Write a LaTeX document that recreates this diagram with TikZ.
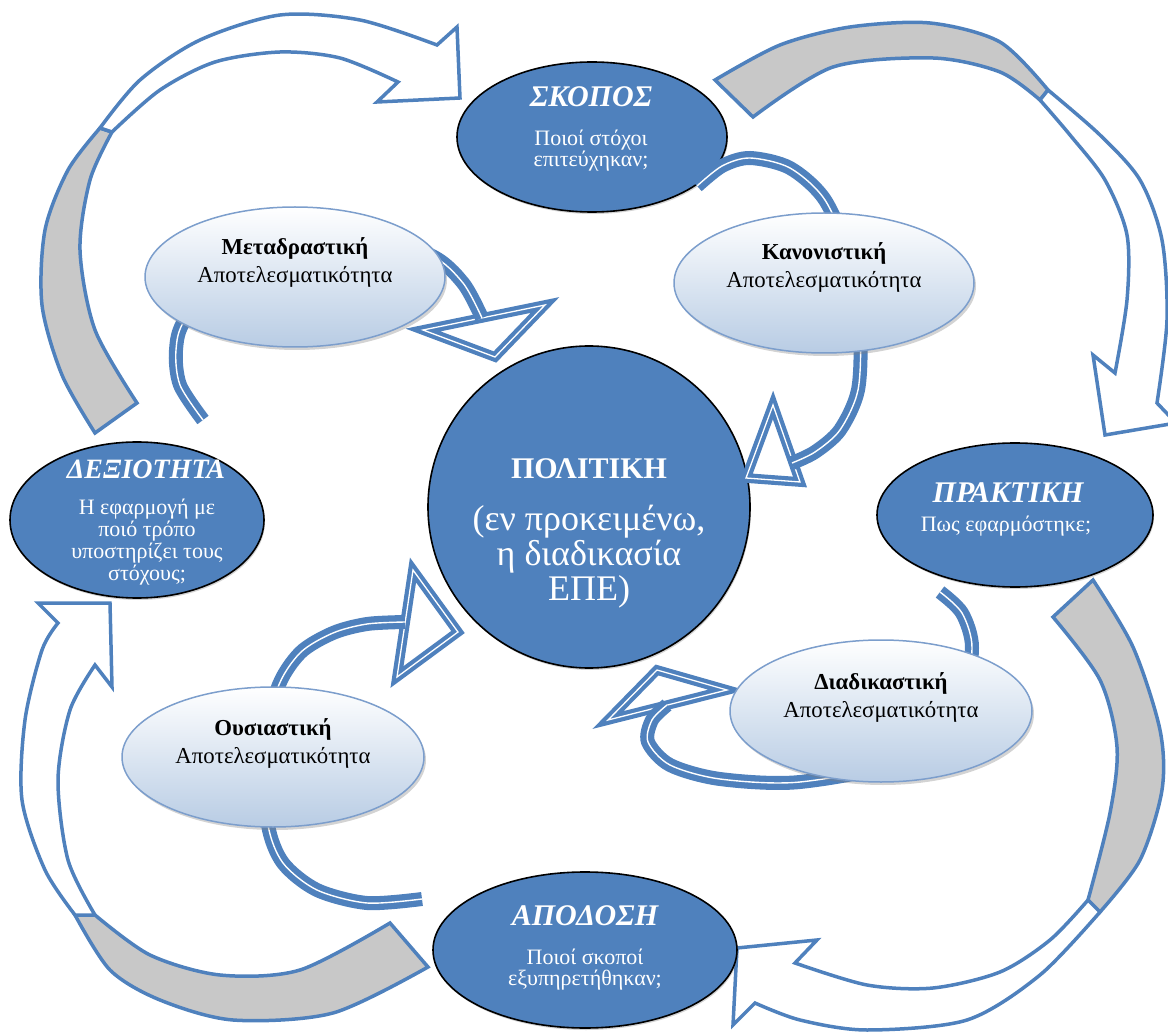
\documentclass[tikz,border=0pt]{standalone}
\usepackage{fontspec}
\setmainfont{Liberation Serif}
\usetikzlibrary{shapes.geometric, shadows}
\definecolor{bandblue}{RGB}{79,129,189}
\definecolor{ballblue}{RGB}{79,129,189}
\definecolor{paleblue}{RGB}{184,204,228}
\definecolor{rimblue}{RGB}{124,158,204}
\definecolor{backgray}{RGB}{200,200,200}

\begin{document}
\lineskiplimit=-50pt
\begin{tikzpicture}[x=1pt, y=-1pt,
    bigarrow/.style={draw=bandblue, line width=3.5pt, line join=miter},
    ribbon/.style={draw=bandblue, line width=6.3pt, double=white, double distance=1.4pt},
    ribbonhead/.style={draw=bandblue, line width=4.2pt, double=white, double distance=1.3pt, fill=white, line join=miter},
    ball/.style={ellipse, draw=black, line width=1.6pt, fill=ballblue, inner sep=0pt,
        drop shadow={shadow xshift=1pt, shadow yshift=-2pt, opacity=0.35}},
    pill/.style={ellipse, draw=rimblue, line width=1.5pt, top color=white, bottom color=paleblue, inner sep=0pt,
        drop shadow={shadow xshift=2pt, shadow yshift=-3pt, opacity=0.35}},
    balltitle/.style={anchor=base, text=white, inner sep=0pt, font=\fontsize{30}{30}\selectfont\bfseries\itshape},
    balltext/.style={anchor=base, text=white, inner sep=0pt, align=center, font=\fontsize{22}{21.7}\selectfont},
    pilltitle/.style={anchor=base, inner sep=0pt, font=\fontsize{22.8}{23}\selectfont\bfseries},
    pilltext/.style={anchor=base, inner sep=0pt, font=\fontsize{22.8}{23}\selectfont}]

    \path[use as bounding box, clip] (0,0) rectangle (1168,1032);

    % Draw the big arrows of the outer cycle
    % from the skill ellipse up to the aim ellipse
    \fill[backgray] (95,433) -- plot[smooth] coordinates {(95,433) (62,375) (42,305) (45,230) (68,170) (100,128)}
        -- plot[smooth] coordinates {(112,132) (90,180) (80,250) (95,330) (137,403)} -- cycle;
    \draw[bigarrow] (95,433) -- plot[smooth] coordinates {(95,433) (62,375) (42,305) (45,230) (68,170) (100,128)}
        -- plot[smooth] coordinates {(112,132) (90,180) (80,250) (95,330) (137,403)} -- cycle;
    \draw[bigarrow, fill=white] (100,128) -- plot[smooth] coordinates {(100,128) (140,80) (200,40) (280,15) (360,20) (437,45)}
        -- (457,27) -- (460,98) -- (377,102) -- (398,82)
        -- plot[smooth] coordinates {(398,82) (340,58) (280,52) (215,62) (160,90) (112,132)} -- cycle;

    % from the aim ellipse down to the practice ellipse
    \fill[backgray] (715,80) -- plot[smooth] coordinates {(715,80) (780,45) (850,27) (930,23) (1000,42) (1048,90)}
        -- plot[smooth] coordinates {(1040,100) (1000,72) (933,58) (833,67) (753,117)} -- cycle;
    \draw[bigarrow] (715,80) -- plot[smooth] coordinates {(715,80) (780,45) (850,27) (930,23) (1000,42) (1048,90)}
        -- plot[smooth] coordinates {(1040,100) (1000,72) (933,58) (833,67) (753,117)} -- cycle;
    \draw[bigarrow, fill=white] (1048,90) -- plot[smooth] coordinates {(1048,90) (1100,135) (1140,180) (1162,240) (1167,320) (1157,403)}
        -- (1176,423) -- (1105,435) -- (1093,355) -- (1115,373)
        -- plot[smooth] coordinates {(1115,373) (1127,300) (1127,235) (1105,180) (1070,135) (1040,100)} -- cycle;

    % from the practice ellipse down to the output ellipse
    \fill[backgray] (1093,580) -- plot[smooth] coordinates {(1093,580) (1133,647) (1160,730) (1162,790) (1140,860) (1100,912)}
        -- plot[smooth] coordinates {(1088,900) (1110,813) (1117,747) (1100,680) (1053,617)} -- cycle;
    \draw[bigarrow] (1093,580) -- plot[smooth] coordinates {(1093,580) (1133,647) (1160,730) (1162,790) (1140,860) (1100,912)}
        -- plot[smooth] coordinates {(1088,900) (1110,813) (1117,747) (1100,680) (1053,617)} -- cycle;
    \draw[bigarrow, fill=white] (1100,912) -- plot[smooth] coordinates {(1100,912) (1040,975) (967,1020) (867,1030) (800,1020) (755,1003)}
        -- (733,1025) -- (737,948) -- (817,940) -- (795,963)
        -- plot[smooth] coordinates {(795,963) (867,985) (933,988) (1000,972) (1050,940) (1088,900)} -- cycle;

    % from the output ellipse up to the skill ellipse
    \fill[backgray] (75,915) -- plot[smooth] coordinates {(75,915) (110,970) (160,1000) (233,1020) (333,1013) (428,967)}
        -- plot[smooth] coordinates {(390,923) (300,970) (220,975) (150,955) (95,915)} -- cycle;
    \draw[bigarrow] (75,915) -- plot[smooth] coordinates {(75,915) (110,970) (160,1000) (233,1020) (333,1013) (428,967)}
        -- plot[smooth] coordinates {(390,923) (300,970) (220,975) (150,955) (95,915)} -- cycle;
    \draw[bigarrow, fill=white] (75,915) -- plot[smooth] coordinates {(75,915) (45,870) (22,800) (25,720) (42,650) (58,623)}
        -- (38,603) -- (110,603) -- (112,687) -- (95,665)
        -- plot[smooth] coordinates {(95,665) (70,710) (58,780) (68,860) (95,915)} -- cycle;

    % Draw the four dark ellipses and the centre
    \node[ball, minimum width=270, minimum height=150] (skopos) at (592,137) {};
    \node[ball, minimum width=254, minimum height=156] (dexiotita) at (137,520) {};
    \node[ball, minimum width=276, minimum height=144] (praktiki) at (1015,515) {};
    \node[ball, minimum width=304, minimum height=156] (apodosi) at (585,950) {};
    \node[ball, circle, minimum size=322] (politiki) at (589,507) {};

    % Draw the small arrows towards the centre
    \draw[ribbonhead] (773,405) -- (800,482) -- (746,478) -- cycle;
    \draw[ribbon] plot[smooth] coordinates {(697,186) (722,166) (750,158) (790,168) (825,200) (850,260) (860,330) (858,390) (840,430) (815,452) (792,463)};

    \draw[ribbonhead] (423,330) -- (545,305) -- (495,357) -- cycle;
    \draw[ribbon] plot[smooth] coordinates {(203,420) (180,385) (176,350) (186,318) (240,255) (350,232) (430,255) (463,283) (482,318)};

    \draw[ribbonhead] (413,570) -- (458,632) -- (397,677) -- cycle;
    \draw[ribbon] plot[smooth] coordinates {(422,899) (367,903) (317,890) (283,863) (268,825) (265,760) (277,690) (300,653) (333,633) (367,624) (405,622)};

    \draw[ribbonhead] (608,720) -- (657,670) -- (727,690) -- cycle;
    \draw[ribbon] plot[smooth] coordinates {(940,592) (962,613) (972,648) (960,700) (900,760) (800,782) (720,779) (670,765) (648,742) (652,720) (667,705)};

    % Draw the four pale ellipses
    \node[pill, minimum width=300, minimum height=140] (metadrastiki) at (295,277) {};
    \node[pill, minimum width=300, minimum height=140] (kanonistiki) at (824,283) {};
    \node[pill, minimum width=302, minimum height=140] (ousiastiki) at (273,757) {};
    \node[pill, minimum width=302, minimum height=142] (diadikastiki) at (881,711) {};

    % Label the dark ellipses (a text of several lines sits on its last line)
    \node[balltitle] (skopostitle) at (591,107) {ΣΚΟΠΟΣ};
    \node[balltext] (skopostext) at (591,167) {Ποιοί στόχοι\\επιτεύχηκαν;};
    \node[balltitle, font=\fontsize{28}{28}\selectfont\bfseries\itshape] (dexiotitatitle) at (146,478) {ΔΕΞΙΟΤΗΤΑ};
    \node[balltext] (dexiotitatext) at (147,580) {Η εφαρμογή με\\ποιό τρόπο\\υποστηρίζει τους\\στόχους;};
    \node[balltitle] (praktikititle) at (1008,502) {ΠΡΑΚΤΙΚΗ};
    \node[balltext] (praktikitext) at (1006,531) {Πως εφαρμόστηκε;};
    \node[balltitle] (apodosititle) at (585,925) {ΑΠΟΔΟΣΗ};
    \node[balltext, font=\fontsize{22}{20.5}\selectfont] (apodositext) at (585,985) {Ποιοί σκοποί\\εξυπηρετήθηκαν;};
    \node[balltitle, font=\fontsize{30}{30}\selectfont\bfseries] (politikititle) at (589,478) {ΠΟΛΙΤΙΚΗ};
    \node[balltext, font=\fontsize{36}{35}\selectfont] (politikitext) at (589,600) {(εν προκειμένω,\\η διαδικασία\\ΕΠΕ)};

    % Label the pale ellipses
    \node[pilltitle] (metadrastikititle) at (295,255) {Μεταδραστική};
    \node[pilltext] (metadrastikitext) at (295,283) {Αποτελεσματικότητα};
    \node[pilltitle] (kanonistikititle) at (824,260) {Κανονιστική};
    \node[pilltext] (kanonistikitext) at (824,288) {Αποτελεσματικότητα};
    \node[pilltitle] (ousiastikititle) at (273,735) {Ουσιαστική};
    \node[pilltext] (ousiastikitext) at (273,763) {Αποτελεσματικότητα};
    \node[pilltitle] (diadikastikititle) at (881,689) {Διαδικαστική};
    \node[pilltext] (diadikastikitext) at (881,717) {Αποτελεσματικότητα};
\end{tikzpicture}
\end{document}
